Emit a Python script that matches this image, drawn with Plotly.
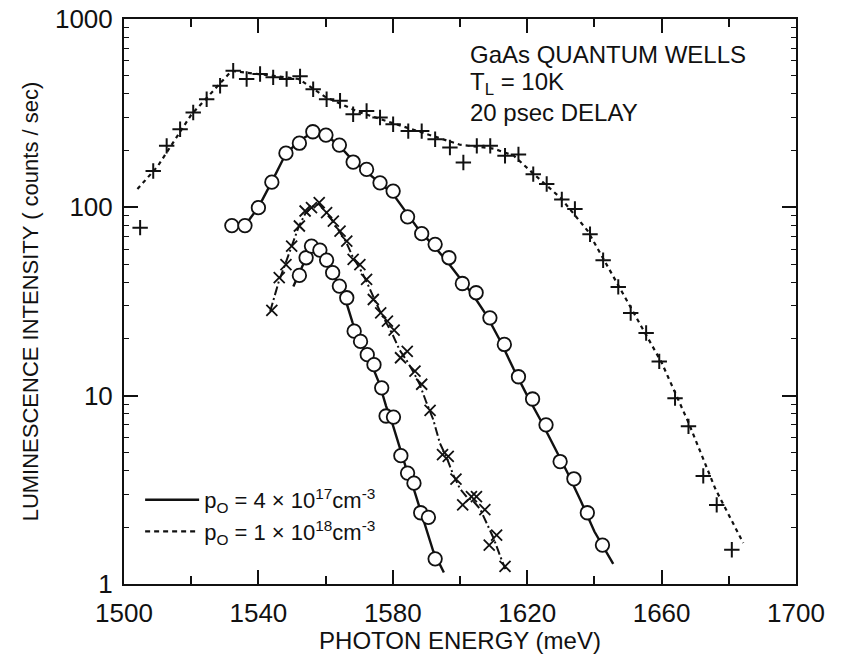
import plotly.graph_objects as go

# ---------------- data ----------------
# p0 = 1e18 cm^-3 (plus markers, dashed curve)
plus_E = [1504.8, 1508.7, 1512.7, 1516.7, 1520.6, 1524.6, 1528.6, 1532.5, 1536.5, 1540.5,
          1544.4, 1548.4, 1552.4, 1556.3, 1560.3, 1564.3, 1568.2, 1572.2, 1576.2, 1580.1,
          1584.6, 1588.6, 1592.6, 1597.0, 1601.0, 1605.0, 1609.0, 1613.4, 1617.4, 1621.8,
          1625.8, 1630.3, 1634.2, 1638.7, 1642.6, 1647.1, 1650.8, 1655.4, 1659.3, 1664.0,
          1668.0, 1672.4, 1676.4, 1680.9]
plus_I = [78, 156, 212, 260, 319, 375, 442, 531, 480, 510,
          490, 480, 496, 424, 375, 368, 312, 325, 300, 276,
          254, 254, 230, 208, 173, 212, 212, 188, 191, 150,
          133, 110, 98, 72, 52.4, 37.8, 27.5, 21.5, 15.2, 9.7,
          6.87, 3.75, 2.63, 1.52]
plus_fit_E = [1504, 1510, 1520, 1528, 1532, 1540, 1552, 1560, 1570, 1580, 1590, 1600,
              1610, 1616, 1622, 1630, 1638, 1645, 1652, 1660, 1668, 1676, 1684.3]
plus_fit_I = [125, 165, 310, 440, 530, 510, 480, 385, 320, 280, 245, 215,
              205, 188, 150, 112, 75, 45, 27, 15, 7.2, 3.2, 1.65]

# p0 = 4e17 cm^-3, large circles (solid curve)
circA_E = [1532.1, 1536.0, 1540.0, 1544.0, 1548.2, 1552.2, 1556.2, 1560.1, 1564.1, 1568.2,
           1572.2, 1576.2, 1580.1, 1584.4, 1588.6, 1592.6, 1596.7, 1600.7, 1604.8, 1608.9,
           1613.2, 1617.4, 1621.6, 1625.6, 1629.8, 1633.9, 1637.9, 1642.4]
circA_I = [80, 80, 99.6, 136, 194, 219, 252, 242, 214, 174,
           159, 135, 122, 89, 72.5, 63.6, 54, 39.4, 35.2, 25.9,
           18.7, 12.6, 9.6, 7.0, 4.47, 3.62, 2.39, 1.61]
circA_fit_E = [1536, 1540, 1544, 1548, 1552, 1556, 1560, 1564, 1568, 1572, 1576, 1580,
               1584, 1588, 1592, 1596, 1600, 1604, 1608, 1612, 1616, 1620, 1624, 1628,
               1632, 1636, 1640, 1645.6]
circA_fit_I = [80, 100, 137, 190, 225, 248, 243, 213, 178, 155, 135, 118,
               94, 75, 63, 52, 42, 34, 26.5, 19.5, 13.8, 10, 7.4, 5.4,
               3.9, 2.75, 1.9, 1.28]

# small circles (solid curve)
circB_E = [1552.2, 1554.2, 1555.8, 1558.3, 1560.3, 1562.1, 1564.1, 1566.3, 1568.5, 1570.4,
           1572.4, 1574.4, 1576.7, 1578.0, 1580.2, 1582.4, 1584.4, 1586.3, 1588.3, 1590.6,
           1592.6]
circB_I = [43.5, 54, 62.3, 59.3, 52.5, 45, 38.2, 33.1, 22, 19.4,
           16.5, 14.6, 11, 7.8, 7.7, 4.8, 3.88, 3.43, 2.39, 2.26,
           1.36]
circB_fit_E = [1550.4, 1552, 1554, 1556, 1558, 1560, 1562, 1564, 1566, 1568, 1570, 1572,
               1574, 1576, 1578, 1580, 1582, 1584, 1586, 1588, 1590, 1592, 1595.2]
circB_fit_I = [38, 44, 53, 61, 59.5, 53, 45.5, 38.5, 32, 24.5, 20, 16.8,
               14.2, 11.6, 8.8, 7.0, 5.3, 4.1, 3.3, 2.55, 2.0, 1.5, 1.15]

# x markers (dash-dot curve)
xs_E = [1544.0, 1546.2, 1548.2, 1549.9, 1552.2, 1553.9, 1555.8, 1558.1, 1560.3, 1562.3,
        1564.3, 1566.3, 1568.2, 1570.2, 1572.2, 1574.2, 1576.4, 1578.4, 1580.4, 1582.3,
        1584.3, 1586.6, 1588.6, 1591.1, 1594.8, 1596.5, 1598.8, 1600.8, 1603.4, 1604.9,
        1607.4, 1608.7, 1610.9, 1613.4]
xs_I = [28.4, 42.3, 49.7, 62.3, 79.6, 95.6, 99.6, 106, 93.7, 84.5,
        74.8, 66.2, 52.9, 49.7, 41.4, 32.4, 27.5, 24.9, 22.3, 15.9,
        17.2, 13.5, 11.5, 8.35, 4.86, 4.76, 3.6, 2.63, 2.91, 2.91,
        2.48, 1.61, 1.82, 1.24]
xs_fit_E = [1543.5, 1546, 1548, 1550, 1552, 1554, 1556, 1558, 1560, 1562, 1564, 1566,
            1568, 1570, 1572, 1574, 1576, 1578, 1580, 1582, 1584, 1586, 1588, 1590,
            1592, 1594, 1596, 1598, 1600, 1602, 1604, 1606, 1608, 1610, 1612, 1613.5]
xs_fit_I = [28, 40, 50, 63, 79, 93, 101, 104, 95, 85, 75, 66,
            55, 48, 41, 34, 28.5, 24.5, 21, 17.5, 15.5, 13.5, 11.5, 9.2,
            7.5, 5.6, 4.7, 3.8, 3.2, 2.9, 2.75, 2.5, 2.1, 1.75, 1.4, 1.2]

x_ticks = [1500, 1540, 1580, 1620, 1660, 1700]
y_ticks = [1, 10, 100, 1000]
y_minor = [m * d for d in (1, 10, 100) for m in range(2, 10)]

legend_labels = ["p<sub>O</sub> = 4 × 10<sup>17</sup>cm<sup>-3</sup>",
                 "p<sub>O</sub> = 1 × 10<sup>18</sup>cm<sup>-3</sup>"]

FONT = "Liberation Sans, Arial, sans-serif"
BLACK = "#111111"

fig = go.Figure()

# fitted curves
fig.add_trace(go.Scatter(x=plus_fit_E, y=plus_fit_I, mode="lines",
                         line=dict(color=BLACK, width=2.2, dash="4px,4px"),
                         showlegend=False, hoverinfo="skip"))
fig.add_trace(go.Scatter(x=circA_fit_E, y=circA_fit_I, mode="lines",
                         line=dict(color=BLACK, width=2.4), showlegend=False, hoverinfo="skip"))
fig.add_trace(go.Scatter(x=circB_fit_E, y=circB_fit_I, mode="lines",
                         line=dict(color=BLACK, width=2.4), showlegend=False, hoverinfo="skip"))
fig.add_trace(go.Scatter(x=xs_fit_E, y=xs_fit_I, mode="lines",
                         line=dict(color=BLACK, width=2, dash="9px,3px,2px,3px"),
                         showlegend=False, hoverinfo="skip"))

# markers
fig.add_trace(go.Scatter(x=plus_E, y=plus_I, mode="markers",
                         marker=dict(symbol="cross-thin", size=11, line=dict(color=BLACK, width=2)),
                         showlegend=False))
fig.add_trace(go.Scatter(x=xs_E, y=xs_I, mode="markers",
                         marker=dict(symbol="x-thin", size=11, line=dict(color=BLACK, width=1.8)),
                         showlegend=False))
fig.add_trace(go.Scatter(x=circA_E, y=circA_I, mode="markers",
                         marker=dict(symbol="circle", size=13.5, color="white",
                                     line=dict(color=BLACK, width=1.8)),
                         showlegend=False))
fig.add_trace(go.Scatter(x=circB_E, y=circB_I, mode="markers",
                         marker=dict(symbol="circle", size=13.5, color="white",
                                     line=dict(color=BLACK, width=1.8)),
                         showlegend=False))

# legend-only entries
fig.add_trace(go.Scatter(x=[None], y=[None], mode="lines", name=legend_labels[0],
                         line=dict(color=BLACK, width=2.6)))
fig.add_trace(go.Scatter(x=[None], y=[None], mode="lines", name=legend_labels[1],
                         line=dict(color=BLACK, width=2.2, dash="5px,4px")))

fig.update_layout(
    width=842, height=654,
    margin=dict(l=124, r=46, t=19, b=70),
    paper_bgcolor="white", plot_bgcolor="white",
    font=dict(family=FONT, color=BLACK),
    legend=dict(x=0.024, y=0.186, xanchor="left", yanchor="top",
                bgcolor="rgba(0,0,0,0)", font=dict(size=22, family=FONT),
                itemwidth=54, tracegroupgap=0),
    xaxis=dict(range=[1500, 1700], tickmode="array", tickvals=x_ticks,
               ticks="inside", ticklen=14, tickwidth=1.5, tickcolor=BLACK,
               minor=dict(dtick=20, tick0=1500, ticks="inside", ticklen=8, tickwidth=1.5, tickcolor=BLACK),
               showline=True, linecolor=BLACK, linewidth=2, mirror="ticks",
               showgrid=False, zeroline=False, automargin=False,
               tickfont=dict(size=26), ticklabelstandoff=5,
               title=dict(text="PHOTON ENERGY (meV)", font=dict(size=24), standoff=6)),
    yaxis=dict(type="log", range=[0, 3], tickmode="array", tickvals=y_ticks,
               ticktext=[str(v) for v in y_ticks],
               ticks="inside", ticklen=14, tickwidth=1.5, tickcolor=BLACK,
               minor=dict(tickmode="array", tickvals=y_minor, ticks="inside", ticklen=5,
                          tickwidth=1, tickcolor=BLACK),
               showline=True, linecolor=BLACK, linewidth=2, mirror="ticks",
               showgrid=False, zeroline=False, automargin=False,
               tickfont=dict(size=26), ticklabelstandoff=4,
               title=dict(text="LUMINESCENCE INTENSITY ( counts / sec)", font=dict(size=22), standoff=10)),
)

ann_font = dict(family=FONT, size=24, color=BLACK)
for txt, yy in [("GaAs QUANTUM WELLS", 0.938), ("T<sub>L</sub> = 10K", 0.885),
                ("20 psec DELAY", 0.835)]:
    fig.add_annotation(x=0.512, y=yy, xref="paper", yref="paper", text=txt,
                       showarrow=False, xanchor="left", yanchor="middle", font=ann_font)

fig.write_html("out.html")
